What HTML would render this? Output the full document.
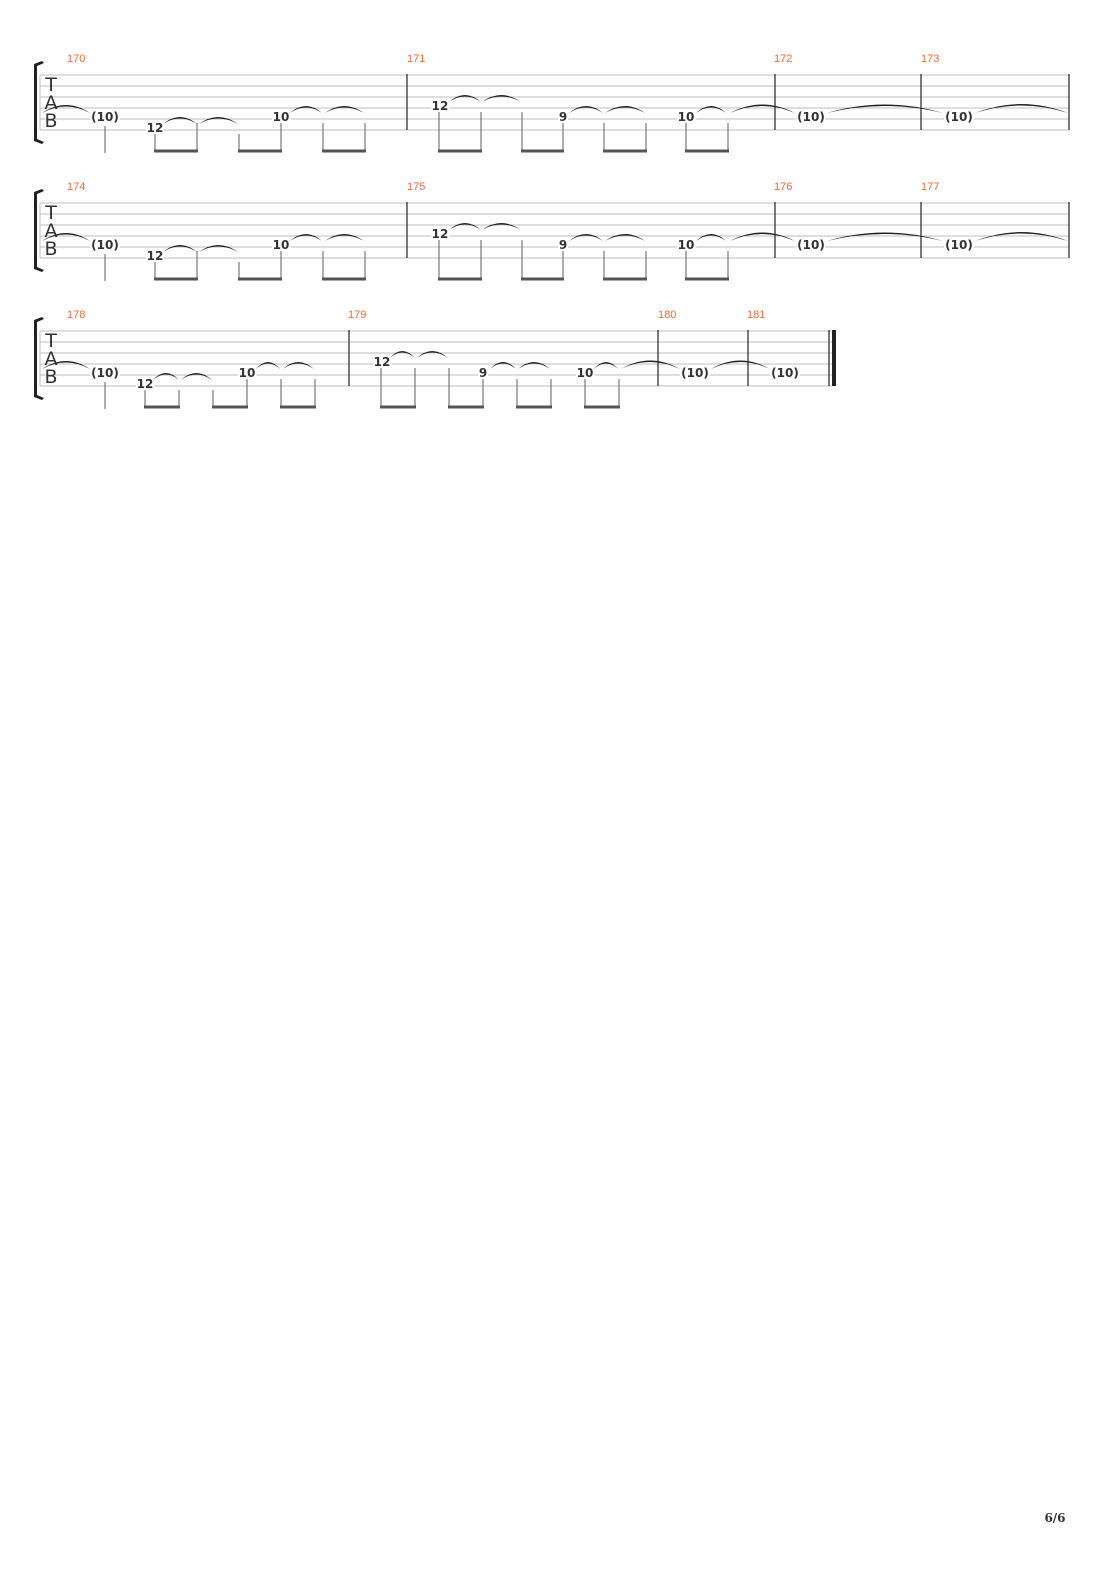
<!DOCTYPE html>
<html><head><meta charset="utf-8"><style>
html,body{margin:0;padding:0;background:#fff;}
svg{display:block;}
.ln{stroke:#bdbdbd;stroke-width:1}
.bar{stroke:#333;stroke-width:1.3}
.st{stroke:#777;stroke-width:1.2}
.bm{stroke:#555;stroke-width:3}
.tie{fill:#222}
.n{font-family:"DejaVu Sans","Liberation Sans",sans-serif;font-weight:bold;font-size:12px;fill:#333;stroke:#fff;stroke-width:4;paint-order:stroke;text-anchor:middle}
.mn{font-family:"Liberation Sans",sans-serif;font-size:11px;fill:#f26a3c}
.tab{font-family:"DejaVu Sans","Liberation Sans",sans-serif;font-size:19px;fill:#333;text-anchor:middle}
</style></head><body>
<svg width="1110" height="1570" viewBox="0 0 1110 1570" xmlns="http://www.w3.org/2000/svg">
<defs>
<g id="clef">
<path d="M42 61 L34 64 L34 141 L42 144 L44 142 L37 139 L37 66 L44 63 Z" fill="#222"/>
<text class="tab" x="51" y="91">T</text>
<text class="tab" x="51" y="109">A</text>
<text class="tab" x="51" y="127">B</text>
</g>
<g id="sysA">
<g class="ln"><line x1="40" y1="75" x2="1069" y2="75"/><line x1="40" y1="86" x2="1069" y2="86"/><line x1="40" y1="97" x2="1069" y2="97"/><line x1="40" y1="108" x2="1069" y2="108"/><line x1="40" y1="119" x2="1069" y2="119"/><line x1="40" y1="130" x2="1069" y2="130"/></g>
<line x1="40" y1="75" x2="40" y2="130" class="ln"/>
<g class="bar"><line x1="407" y1="74" x2="407" y2="130"/><line x1="775" y1="74" x2="775" y2="130"/><line x1="921" y1="74" x2="921" y2="130"/><line x1="1069" y1="74" x2="1069" y2="130"/></g>
<use href="#clef"/>
<g class="tie">
<path d="M42 113 Q66 97 90 113 Q66 100 42 113Z"/>
<path d="M163 124 Q180 110 197 124 Q180 113 163 124Z"/>
<path d="M199 124 Q218 110 238 124 Q218 113 199 124Z"/>
<path d="M290 113 Q306 99 322 113 Q306 102 290 113Z"/>
<path d="M325 113 Q344 99 364 113 Q344 102 325 113Z"/>
<path d="M449 102 Q465 88 481 102 Q465 91 449 102Z"/>
<path d="M482 102 Q501 88 521 102 Q501 91 482 102Z"/>
<path d="M569 113 Q586 99 603 113 Q586 102 569 113Z"/>
<path d="M605 113 Q625 99 645 113 Q625 102 605 113Z"/>
<path d="M696 113 Q711 99 726 113 Q711 102 696 113Z"/>
<path d="M730 113 Q762 96 795 113 Q762 99 730 113Z"/>
<path d="M827 113 Q885 96 943 113 Q885 99 827 113Z"/>
<path d="M975 113 Q1021 95 1068 113 Q1021 98 975 113Z"/>
</g>
<g class="st">
<line x1="105" y1="126" x2="105" y2="153"/>
<line x1="155" y1="134" x2="155" y2="152"/><line x1="197" y1="123" x2="197" y2="152"/>
<line x1="239" y1="134" x2="239" y2="152"/><line x1="281" y1="123" x2="281" y2="152"/>
<line x1="323" y1="123" x2="323" y2="152"/><line x1="365" y1="123" x2="365" y2="152"/>
<line x1="439" y1="112" x2="439" y2="152"/><line x1="481" y1="112" x2="481" y2="152"/>
<line x1="522" y1="112" x2="522" y2="152"/><line x1="563" y1="123" x2="563" y2="152"/>
<line x1="604" y1="123" x2="604" y2="152"/><line x1="646" y1="123" x2="646" y2="152"/>
<line x1="686" y1="123" x2="686" y2="152"/><line x1="728" y1="123" x2="728" y2="152"/>
</g>
<g class="bm">
<line x1="154" y1="151" x2="198" y2="151"/><line x1="238" y1="151" x2="282" y2="151"/><line x1="322" y1="151" x2="366" y2="151"/>
<line x1="438" y1="151" x2="482" y2="151"/><line x1="521" y1="151" x2="564" y2="151"/><line x1="603" y1="151" x2="647" y2="151"/><line x1="685" y1="151" x2="729" y2="151"/>
</g>
<text class="n" x="105" y="121">(10)</text>
<text class="n" x="155" y="132">12</text>
<text class="n" x="281" y="121">10</text>
<text class="n" x="440" y="110">12</text>
<text class="n" x="563" y="121">9</text>
<text class="n" x="686" y="121">10</text>
<text class="n" x="811" y="121">(10)</text>
<text class="n" x="959" y="121">(10)</text>
</g>
</defs>

<use href="#sysA"/>
<text class="mn" x="67" y="62">170</text><text class="mn" x="407" y="62">171</text><text class="mn" x="774" y="62">172</text><text class="mn" x="921" y="62">173</text>

<g transform="translate(0,128)"><use href="#sysA"/></g>
<text class="mn" x="67" y="190">174</text><text class="mn" x="407" y="190">175</text><text class="mn" x="774" y="190">176</text><text class="mn" x="921" y="190">177</text>

<text class="mn" x="67" y="318">178</text><text class="mn" x="348" y="318">179</text><text class="mn" x="658" y="318">180</text><text class="mn" x="747" y="318">181</text>
<g transform="translate(0,256)">
<g class="ln"><line x1="40" y1="75" x2="832" y2="75"/><line x1="40" y1="86" x2="832" y2="86"/><line x1="40" y1="97" x2="832" y2="97"/><line x1="40" y1="108" x2="832" y2="108"/><line x1="40" y1="119" x2="832" y2="119"/><line x1="40" y1="130" x2="832" y2="130"/></g>
<line x1="40" y1="75" x2="40" y2="130" class="ln"/>
<g class="bar"><line x1="349" y1="74" x2="349" y2="130"/><line x1="658" y1="74" x2="658" y2="130"/><line x1="748" y1="74" x2="748" y2="130"/><line x1="829" y1="74" x2="829" y2="130"/></g>
<rect x="832" y="74" width="4" height="56" fill="#222"/>
<use href="#clef"/>
<g class="tie">
<path d="M42 113 Q66 97 90 113 Q66 100 42 113Z"/>
<path d="M153 124 Q166 110 179 124 Q166 113 153 124Z"/>
<path d="M181 124 Q196 110 212 124 Q196 113 181 124Z"/>
<path d="M256 113 Q268 99 280 113 Q268 102 256 113Z"/>
<path d="M283 113 Q298 99 314 113 Q298 102 283 113Z"/>
<path d="M390 102 Q402 88 415 102 Q402 91 390 102Z"/>
<path d="M417 102 Q432 88 448 102 Q432 91 417 102Z"/>
<path d="M490 113 Q503 99 516 113 Q503 102 490 113Z"/>
<path d="M518 113 Q534 99 550 113 Q534 102 518 113Z"/>
<path d="M594 113 Q606 99 618 113 Q606 102 594 113Z"/>
<path d="M621 113 Q650 96 680 113 Q650 99 621 113Z"/>
<path d="M711 113 Q740 96 770 113 Q740 99 711 113Z"/>
</g>
<g class="st">
<line x1="105" y1="126" x2="105" y2="153"/>
<line x1="145" y1="134" x2="145" y2="152"/><line x1="179" y1="134" x2="179" y2="152"/>
<line x1="213" y1="134" x2="213" y2="152"/><line x1="247" y1="123" x2="247" y2="152"/>
<line x1="281" y1="123" x2="281" y2="152"/><line x1="315" y1="123" x2="315" y2="152"/>
<line x1="381" y1="112" x2="381" y2="152"/><line x1="415" y1="112" x2="415" y2="152"/>
<line x1="449" y1="112" x2="449" y2="152"/><line x1="483" y1="123" x2="483" y2="152"/>
<line x1="517" y1="123" x2="517" y2="152"/><line x1="551" y1="123" x2="551" y2="152"/>
<line x1="585" y1="123" x2="585" y2="152"/><line x1="619" y1="123" x2="619" y2="152"/>
</g>
<g class="bm">
<line x1="144" y1="151" x2="180" y2="151"/><line x1="212" y1="151" x2="248" y2="151"/><line x1="280" y1="151" x2="316" y2="151"/>
<line x1="380" y1="151" x2="416" y2="151"/><line x1="448" y1="151" x2="484" y2="151"/><line x1="516" y1="151" x2="552" y2="151"/><line x1="584" y1="151" x2="620" y2="151"/>
</g>
<text class="n" x="105" y="121">(10)</text>
<text class="n" x="145" y="132">12</text>
<text class="n" x="247" y="121">10</text>
<text class="n" x="382" y="110">12</text>
<text class="n" x="483" y="121">9</text>
<text class="n" x="585" y="121">10</text>
<text class="n" x="695" y="121">(10)</text>
<text class="n" x="785" y="121">(10)</text>
</g>

<text x="1055" y="1522" font-family="'DejaVu Serif','Liberation Serif',serif" font-weight="bold" font-size="12" fill="#333" text-anchor="middle">6/6</text>
</svg>
</body></html>
